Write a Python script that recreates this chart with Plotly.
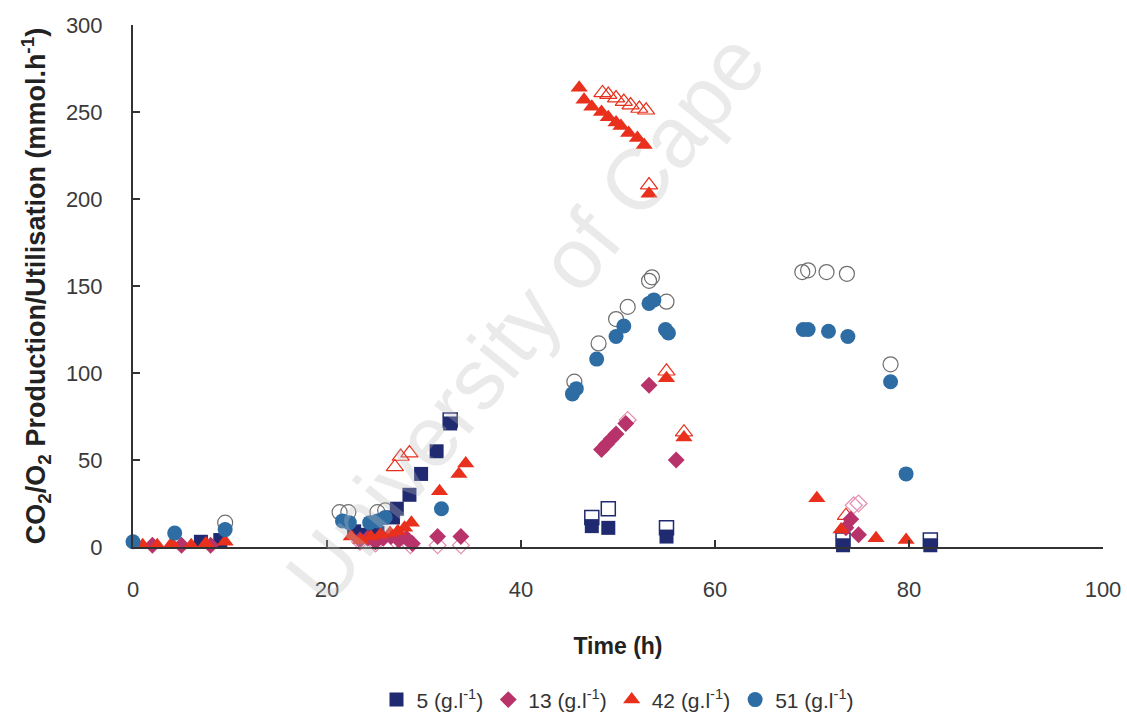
import plotly.graph_objects as go

# Time (h) and rate (mmol/h) for each initial concentration.
# "solid" = filled markers, "open" = hollow markers of the same series.
t5_solid = [7.0, 9.0, 22.8, 24.0, 25.2, 26.8, 27.2, 28.5, 29.7, 31.3, 32.7, 47.3, 49.0, 55.0, 73.2, 82.2]
v5_solid = [3, 4, 9, 7, 8, 17, 22, 30, 42, 55, 71, 12, 11, 6, 1, 1]
t5_open = [32.7, 47.3, 49.0, 55.0, 73.2, 82.2]
v5_open = [73, 17, 22, 11, 4, 4]

t13_solid = [2.0, 5.0, 8.0, 23.4, 24.2, 25.0, 25.8, 26.6, 27.4, 28.2, 28.8, 31.4, 33.8,
             48.3, 48.8, 49.3, 49.8, 50.8, 53.2, 56.0, 73.5, 74.0, 74.8]
v13_solid = [1, 1, 1, 4, 5, 3, 5, 6, 4, 5, 2, 6, 6,
             56, 59, 62, 65, 71, 93, 50, 11, 16, 7]
t13_open = [23.4, 25.0, 27.0, 28.6, 31.4, 33.8, 51.0, 74.3, 74.8]
v13_open = [3, 2, 4, 1, 1, 1, 73, 24, 25]

t42_solid = [1.0, 2.5, 4.0, 6.0, 7.5, 9.5, 22.5, 23.5, 24.5, 25.5, 26.5, 27.3, 28.0, 28.7, 31.6, 33.6, 34.3,
             46.0, 46.5, 47.3, 48.3, 49.0, 49.8, 50.3, 51.1, 52.0, 52.7, 53.2, 55.0, 56.8,
             70.5, 73.0, 76.6, 79.7]
v42_solid = [1, 1, 2, 1, 2, 3, 6, 4, 6, 7, 8, 9, 11, 14, 32, 42, 48,
             264, 257, 253, 250, 247, 244, 242, 238, 235, 231, 203, 97, 63,
             28, 10, 5, 4]
t42_open = [27.0, 27.6, 28.5, 48.4, 49.0, 49.8, 50.6, 51.3, 52.2, 52.9, 53.2, 55.0, 56.8, 73.5]
v42_open = [46, 52, 54, 261, 260, 258, 256, 254, 252, 251, 208, 101, 66, 18]

t51_solid = [0.0, 4.3, 9.5, 21.6, 22.3, 24.4, 25.2, 26.0, 31.8,
             45.3, 45.7, 47.8, 49.8, 50.6, 53.2, 53.7, 54.9, 55.2,
             69.1, 69.6, 71.7, 73.7, 78.1, 79.7]
v51_solid = [3, 8, 10, 15, 14, 14, 15, 17, 22,
             88, 91, 108, 121, 127, 140, 142, 125, 123,
             125, 125, 124, 121, 95, 42]
t51_open = [9.5, 21.3, 22.2, 25.2, 26.0, 45.5, 48.0, 49.8, 51.0, 53.2, 53.5, 55.0,
            69.0, 69.6, 71.5, 73.6, 78.1]
v51_open = [14, 20, 20, 20, 21, 95, 117, 131, 138, 153, 155, 141,
            158, 159, 158, 157, 105]

labels = ["5 (g.l<sup>-1</sup>)", "13 (g.l<sup>-1</sup>)", "42 (g.l<sup>-1</sup>)", "51 (g.l<sup>-1</sup>)"]
x_ticks = [0, 20, 40, 60, 80, 100]
y_ticks = [0, 50, 100, 150, 200, 250, 300]

NAVY = "#1F2A70"
PLUM = "#B7336A"
RED = "#E8301C"
BLUE = "#2E6CA4"
FONT = "Liberation Sans, Arial, sans-serif"

fig = go.Figure()

# hollow markers first, filled markers drawn over them
open_specs = [
    (t5_open, v5_open, "square-open", 14, NAVY, 1.5),
    (t13_open, v13_open, "diamond-open", 13, "#E58FB0", 1.2),
    (t42_open, v42_open, "triangle-up-open", 15, RED, 1.2),
    (t51_open, v51_open, "circle-open", 15, "#6E6E6E", 1.2),
]
for t, v, sym, size, col, lw in open_specs:
    fig.add_trace(go.Scatter(
        x=t, y=v, mode="markers", showlegend=False, cliponaxis=False,
        marker=dict(symbol=sym, size=size, color=col, line=dict(width=lw, color=col)),
    ))

solid_specs = [
    (t5_solid, v5_solid, "square", 14, NAVY),
    (t13_solid, v13_solid, "diamond", 13, PLUM),
    (t42_solid, v42_solid, "triangle-up", 15, RED),
    (t51_solid, v51_solid, "circle", 15, BLUE),
]
for (t, v, sym, size, col), name in zip(solid_specs, labels):
    fig.add_trace(go.Scatter(
        x=t, y=v, mode="markers", name=name, cliponaxis=False,
        marker=dict(symbol=sym, size=size, color=col, line=dict(width=0)),
    ))

axis_font = dict(family=FONT, size=22, color="#3a3a3a")
title_font = dict(family=FONT, size=23, color="#222222", weight="bold")

fig.update_xaxes(
    range=[0, 100], tickvals=x_ticks, ticks="inside", ticklen=7, tickwidth=1.5, tickcolor="#333333",
    showline=True, linecolor="#333333", linewidth=2, showgrid=False, zeroline=False,
    tickfont=axis_font, ticklabelstandoff=22,
    title=dict(text="Time (h)", font=title_font, standoff=36),
)
fig.update_yaxes(
    range=[0, 300], tickvals=y_ticks, ticks="inside", ticklen=7, tickwidth=1.5, tickcolor="#333333",
    showline=True, linecolor="#333333", linewidth=2, showgrid=False, zeroline=False,
    tickfont=axis_font, ticklabelstandoff=24,
    title=dict(text="CO<sub>2</sub>/O<sub>2</sub> Production/Utilisation (mmol.h<sup>-1</sup>)",
               font=dict(family=FONT, size=27, color="#222222", weight="bold"), standoff=12),
)

# faint diagonal watermark across the plot area
fig.add_annotation(
    text="University of Cape", xref="paper", yref="paper", x=0.405, y=0.44,
    xanchor="center", yanchor="middle", textangle=-51, showarrow=False,
    font=dict(family=FONT, size=86, color="rgba(190,190,190,0.32)"),
)

fig.update_layout(
    width=1127, height=725,
    margin=dict(l=133, r=24, t=25, b=178, autoexpand=False),
    paper_bgcolor="white", plot_bgcolor="white",
    legend=dict(orientation="h", x=0.5, xanchor="center", y=-0.293, yanchor="middle",
                font=dict(family=FONT, size=21, color="#333333"),
                itemwidth=30, tracegroupgap=0),
)

fig.write_html("out.html")
